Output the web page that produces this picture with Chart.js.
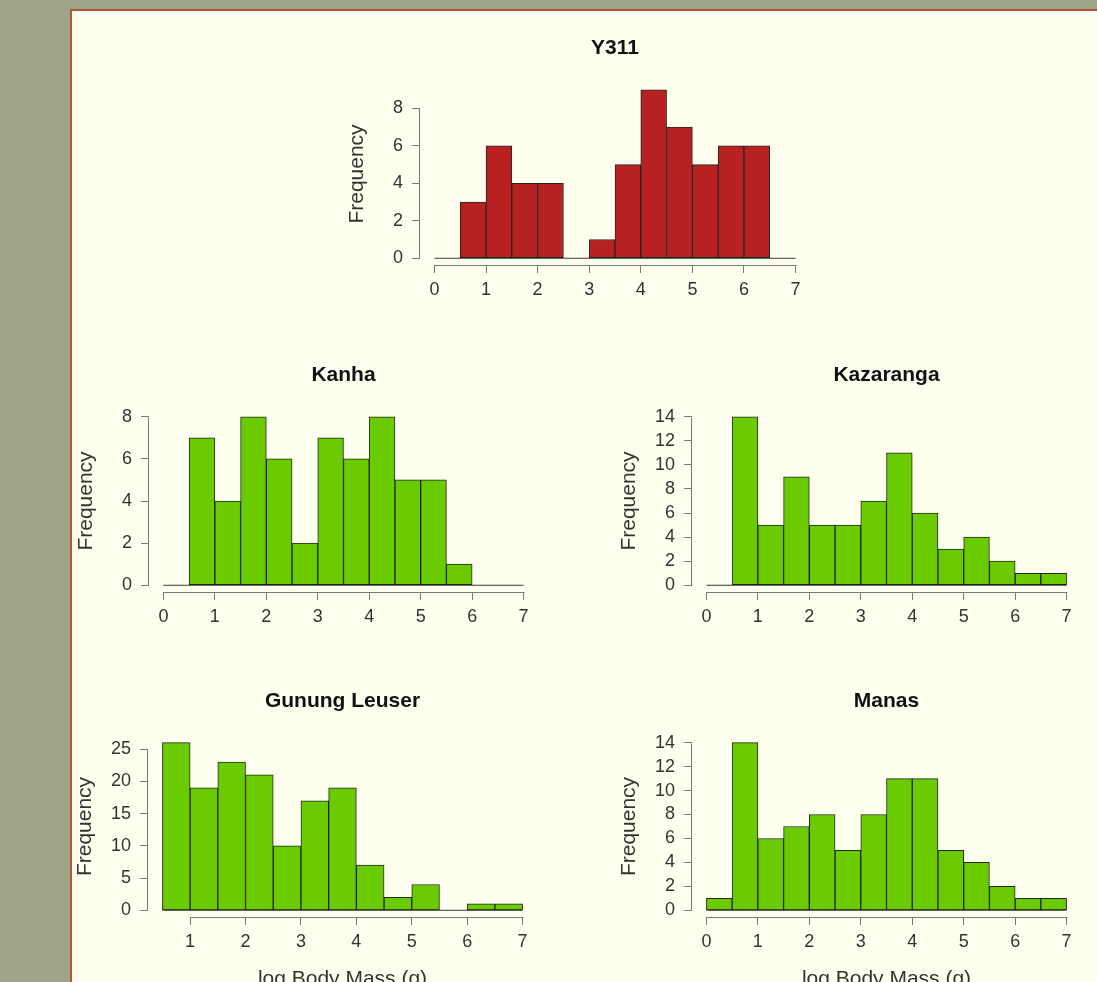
<!DOCTYPE html>
<html>
<head>
<meta charset="utf-8">
<script src="https://cdn.jsdelivr.net/npm/chart.js@4.4.0/dist/chart.umd.min.js"></script>
<style>
  html, body { margin: 0; padding: 0; width: 1097px; height: 982px; overflow: hidden; background: #9ea586; }
  #sheet { position: absolute; left: 70px; top: 9px; width: 1040px; height: 1000px;
           background: #fffff0; border-left: 2px solid #b0573a; border-top: 2px solid #b0573a; }
  canvas { position: absolute; }
</style>
</head>
<body>
<div id="sheet"></div>
<canvas id="c-y311"></canvas>
<canvas id="c-kanha"></canvas>
<canvas id="c-kazaranga"></canvas>
<canvas id="c-gunung"></canvas>
<canvas id="c-manas"></canvas>
<script>
// Histogram bin edges (log body mass, grams)
const binEdges    = [0, 0.5, 1, 1.5, 2, 2.5, 3, 3.5, 4, 4.5, 5, 5.5, 6, 6.5, 7];
const gunungEdges = [0.5, 1, 1.5, 2, 2.5, 3, 3.5, 4, 4.5, 5, 5.5, 6, 6.5, 7];

// Counts per bin
const y311Counts      = [0, 3, 6, 4, 4, 0, 1, 5, 9, 7, 5, 6, 6, 0];
const kanhaCounts     = [0, 7, 4, 8, 6, 2, 7, 6, 8, 5, 5, 1, 0, 0];
const kazarangaCounts = [0, 14, 5, 9, 5, 5, 7, 11, 6, 3, 4, 2, 1, 1];
const gunungCounts    = [26, 19, 23, 21, 10, 17, 19, 7, 2, 4, 0, 1, 1];
const manasCounts     = [1, 14, 6, 7, 8, 5, 8, 11, 11, 5, 4, 2, 1, 1];

// Axis tick labels
const xTicksFull   = [0, 1, 2, 3, 4, 5, 6, 7];
const xTicksGunung = [1, 2, 3, 4, 5, 6, 7];
const yTicks8      = [0, 2, 4, 6, 8];
const yTicks14     = [0, 2, 4, 6, 8, 10, 12, 14];
const yTicks25     = [0, 5, 10, 15, 20, 25];

const xAxisTitle = 'log Body Mass (g)';
const yAxisTitle = 'Frequency';

const FONT = '"Liberation Sans", Arial, Helvetica, sans-serif';
const AXIS_COLOR = '#7a7a72';
const TEXT_COLOR = '#333333';
const BAR_EDGE = 'rgba(20,20,15,0.92)';
const RED = '#b82121';
const GREEN = '#69cb00';

Chart.defaults.font.family = FONT;

// Draws R-style axis lines that run from the first to the last tick only
const rAxisLines = {
  id: 'rAxisLines',
  afterDraw(chart) {
    const { ctx, chartArea, scales: { x, y } } = chart;
    ctx.save();
    ctx.strokeStyle = AXIS_COLOR;
    ctx.lineWidth = 1;
    ctx.beginPath();
    const yb = Math.round(chartArea.bottom) + 0.5;
    ctx.moveTo(Math.round(x.getPixelForValue(x.ticks[0].value)) + 0.5, yb);
    ctx.lineTo(Math.round(x.getPixelForValue(x.ticks[x.ticks.length - 1].value)) + 0.5, yb);
    const xl = Math.round(chartArea.left) - 0.5;
    ctx.moveTo(xl, Math.round(y.getPixelForValue(y.ticks[0].value)) + 0.5);
    ctx.lineTo(xl, Math.round(y.getPixelForValue(y.ticks[y.ticks.length - 1].value)) + 0.5);
    ctx.stroke();
    ctx.restore();
  }
};

function drawHistogram(id, spec, box) {
  const { title, edges, counts, xTicks, yTicks, color, xTitle } = spec;
  const { left, top, width, height, xAxisHeight } = box;
  const Y_AXIS_W = 90, TOP_SPACE = 60, RIGHT_PAD = 15;

  const canvas = document.getElementById(id);
  canvas.width = Y_AXIS_W + width + RIGHT_PAD;
  canvas.height = TOP_SPACE + height + xAxisHeight;
  canvas.style.left = (left - Y_AXIS_W) + 'px';
  canvas.style.top = (top - TOP_SPACE) + 'px';

  const bars = counts.map((c, i) => ({ x: (edges[i] + edges[i + 1]) / 2, y: c }));
  const xRange = edges[edges.length - 1] - edges[0];
  const yMax = Math.max(...counts);

  const axisGrid = { offset: false, drawOnChartArea: false, drawTicks: true, tickLength: 8,
                     color: AXIS_COLOR, lineWidth: 1 };

  new Chart(canvas, {
    type: 'bar',
    data: {
      datasets: [
        { type: 'bar', data: bars, backgroundColor: color, borderColor: BAR_EDGE,
          borderWidth: 1, borderSkipped: false, barPercentage: 1, categoryPercentage: 1, order: 1 },
        { type: 'line', data: [{ x: edges[0], y: 0 }, { x: edges[edges.length - 1], y: 0 }],
          borderColor: '#3a3a36', borderWidth: 1, pointRadius: 0, order: 2 }
      ]
    },
    options: {
      responsive: false,
      animation: false,
      devicePixelRatio: 1,
      layout: { padding: { left: 0, top: 0, right: RIGHT_PAD, bottom: 0 } },
      plugins: {
        legend: { display: false },
        tooltip: { enabled: false },
        title: { display: true, text: title, fullSize: false, color: '#111',
                 font: { size: 21, weight: 'bold' }, padding: { top: 12.4, bottom: 22.4 } }
      },
      scales: {
        x: {
          type: 'linear', offset: false,
          min: edges[0] - 0.04 * xRange, max: edges[edges.length - 1] + 0.04 * xRange,
          afterBuildTicks: s => { s.ticks = xTicks.map(v => ({ value: v })); },
          afterFit: s => { s.height = xAxisHeight; },
          grid: axisGrid,
          border: { display: false },
          ticks: { padding: 6, color: TEXT_COLOR, font: { size: 18 }, autoSkip: false,
                   maxRotation: 0, callback: v => String(v) },
          title: { display: !!xTitle, text: xTitle || '', color: TEXT_COLOR,
                   font: { size: 21 }, padding: 0 }
        },
        y: {
          type: 'linear',
          min: -0.04 * yMax, max: 1.04 * yMax,
          afterBuildTicks: s => { s.ticks = yTicks.map(v => ({ value: v })); },
          afterFit: s => { s.width = Y_AXIS_W; },
          grid: axisGrid,
          border: { display: false },
          ticks: { padding: 9, color: TEXT_COLOR, font: { size: 18 }, autoSkip: false,
                   callback: v => String(v) },
          title: { display: true, text: yAxisTitle, color: TEXT_COLOR,
                   font: { size: 21 }, padding: { top: 14.9, bottom: 0 } }
        }
      }
    },
    plugins: [rAxisLines]
  });
}

drawHistogram('c-y311',
  { title: 'Y311', edges: binEdges, counts: y311Counts, xTicks: xTicksFull, yTicks: yTicks8, color: RED },
  { left: 420, top: 83, width: 390, height: 182, xAxisHeight: 45 });

drawHistogram('c-kanha',
  { title: 'Kanha', edges: binEdges, counts: kanhaCounts, xTicks: xTicksFull, yTicks: yTicks8, color: GREEN },
  { left: 149, top: 410, width: 389, height: 182, xAxisHeight: 45 });

drawHistogram('c-kazaranga',
  { title: 'Kazaranga', edges: binEdges, counts: kazarangaCounts, xTicks: xTicksFull, yTicks: yTicks14, color: GREEN },
  { left: 692, top: 410, width: 389, height: 182, xAxisHeight: 45 });

drawHistogram('c-gunung',
  { title: 'Gunung Leuser', edges: gunungEdges, counts: gunungCounts, xTicks: xTicksGunung, yTicks: yTicks25,
    color: GREEN, xTitle: xAxisTitle },
  { left: 148, top: 736, width: 389, height: 181, xAxisHeight: 75 });

drawHistogram('c-manas',
  { title: 'Manas', edges: binEdges, counts: manasCounts, xTicks: xTicksFull, yTicks: yTicks14,
    color: GREEN, xTitle: xAxisTitle },
  { left: 692, top: 736, width: 389, height: 181, xAxisHeight: 75 });
</script>
</body>
</html>
